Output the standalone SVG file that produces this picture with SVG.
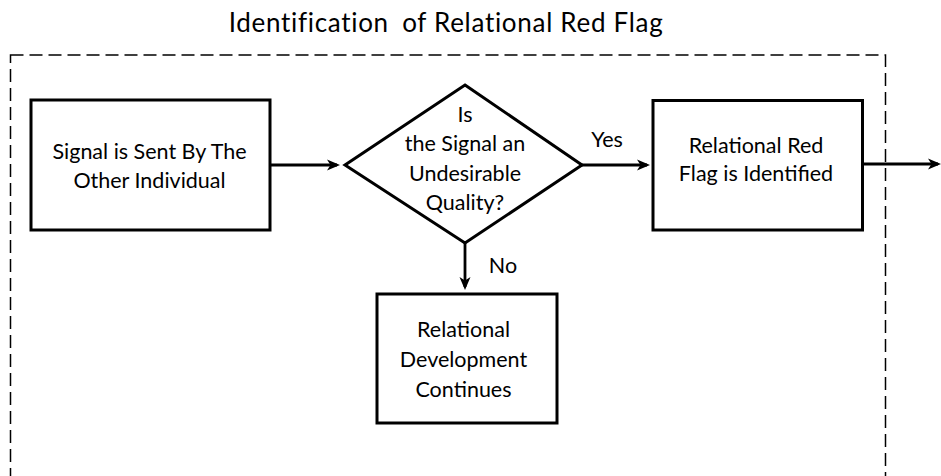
<svg xmlns="http://www.w3.org/2000/svg" width="941" height="476" viewBox="0 0 941 476">
  <style>
    .t { font-family: Lato, "Open Sans", "Liberation Sans", sans-serif; font-size: 21.5px; fill: #000; text-anchor: middle; }
    .title { font-size: 26px; letter-spacing: 0.7px; }
    .box { fill: #fff; stroke: #000; stroke-width: 3; }
    .conn { fill: none; stroke: #000; stroke-width: 2.8; marker-end: url(#arrow); }
    .frame { fill: none; stroke: #000; stroke-width: 1.5; stroke-dasharray: 13 6; }
  </style>
  <defs>
    <marker id="arrow" markerUnits="userSpaceOnUse" markerWidth="16" markerHeight="14" refX="10" refY="7" orient="auto">
      <path d="M0,1.5 L13,7 L0,12.5 L3.5,7 Z" fill="#000"/>
    </marker>
  </defs>

  <text class="t title" x="446" y="32">Identification <tspan dx="6">of Relational Red Flag</tspan></text>
  <rect class="frame" x="10.5" y="55" width="875" height="440"/>

  <g id="connectors">
    <line class="conn" x1="270" y1="165" x2="337" y2="165"/>
    <line class="conn" x1="582" y1="165" x2="647" y2="165"/>
    <line class="conn" x1="465" y1="243" x2="465" y2="287"/>
    <line class="conn" x1="863" y1="164" x2="938" y2="164"/>
    <text class="t" x="607" y="147">Yes</text>
    <text class="t" x="503" y="273">No</text>
  </g>

  <g id="signal-sent">
    <rect class="box" x="31" y="100" width="239" height="130"/>
    <text class="t" x="149.5" y="159">Signal is Sent By The</text>
    <text class="t" x="149.5" y="187.5">Other Individual</text>
  </g>

  <g id="decision">
    <polygon class="box" points="465,85 582,165 465,243 345,165"/>
    <text class="t" x="465" y="122">Is</text>
    <text class="t" x="465" y="151">the Signal an</text>
    <text class="t" x="465" y="181">Undesirable</text>
    <text class="t" x="465" y="209.5">Quality?</text>
  </g>

  <g id="red-flag">
    <rect class="box" x="653" y="100.5" width="209.5" height="129.5"/>
    <text class="t" x="756" y="153">Relational Red</text>
    <text class="t" x="756" y="181">Flag is Identified</text>
  </g>

  <g id="development">
    <rect class="box" x="377" y="294" width="180" height="129"/>
    <text class="t" x="463.5" y="337">Relational</text>
    <text class="t" x="463.5" y="366.5">Development</text>
    <text class="t" x="463.5" y="397">Continues</text>
  </g>
</svg>
